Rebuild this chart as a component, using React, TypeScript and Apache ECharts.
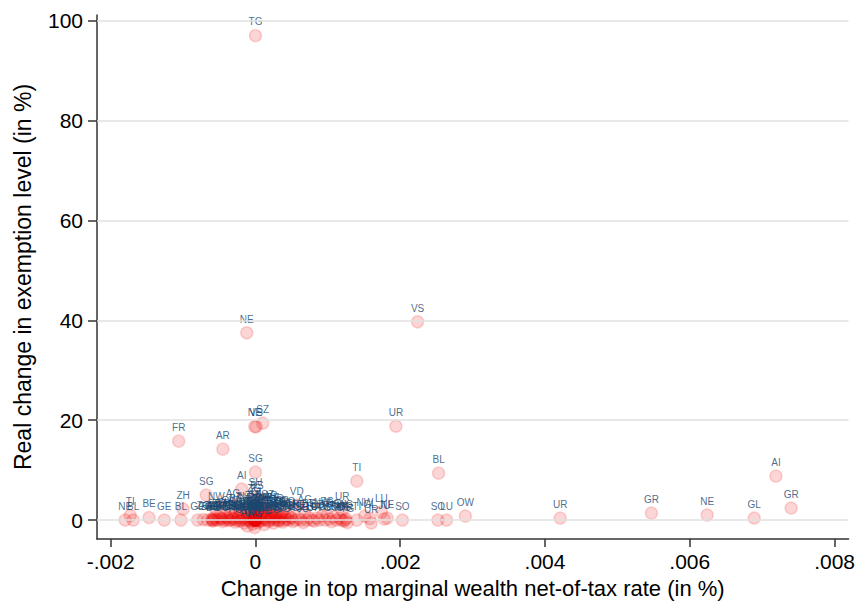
import React, { useEffect, useRef } from "react";
import * as echarts from "echarts";

type Pt = [number, number, string];

const xTicks = [-0.002, 0, 0.002, 0.004, 0.006, 0.008];
const yTicks = [0, 20, 40, 60, 80, 100];

const highOutliers: Pt[] = [
  [0.0, 97.0, "TG"], [-0.00012, 37.5, "NE"], [0.00224, 39.7, "VS"],
  [-0.00001, 18.7, "NE"], [0.00001, 18.7, "VS"], [0.0001, 19.4, "SZ"],
  [0.00194, 18.8, "UR"], [-0.00106, 15.8, "FR"], [-0.00045, 14.2, "AR"],
  [0.0, 9.6, "SG"], [0.0014, 7.8, "TI"], [0.00253, 9.4, "BL"],
  [0.00719, 8.8, "AI"], [-0.00019, 6.2, "AI"], [-0.00068, 5.0, "SG"],
];

const rightTail: Pt[] = [
  [0.00203, 0.0, "SO"], [0.00252, 0.0, "SO"], [0.00264, 0.0, "LU"],
  [0.0029, 0.8, "OW"], [0.00421, 0.4, "UR"], [0.00547, 1.4, "GR"],
  [0.00624, 1.0, "NE"], [0.00689, 0.4, "GL"], [0.0074, 2.4, "GR"],
];

const leftTail: Pt[] = [
  [-0.0018, 0.0, "NE"], [-0.00173, 0.9, "TI"], [-0.00169, 0.0, "BL"],
  [-0.00147, 0.5, "BE"], [-0.00126, 0.0, "GE"], [-0.00103, 0.0, "BL"],
  [-0.001, 2.2, "ZH"], [-0.0008, 0.0, "GE"], [-0.00072, 0.1, "ZG"],
  [-0.00066, 0.0, "BS"],
];

const centerStack: Pt[] = [
  [0, 0, "ZH"], [0, 0, "BE"], [0, 0, "LU"], [0, 0, "UR"], [0, 0, "SZ"],
  [0, 0, "OW"], [0, 0, "NW"], [0, 0, "GL"], [0, 0, "ZG"], [0, 0, "FR"],
  [0, 0, "SO"], [0, 0, "BS"],
  [0.0, 4.8, "SH"], [0.00002, 4.2, "BS"], [-0.00002, 3.6, "ZG"],
  [0.00003, 3.0, "GL"], [-0.00001, 2.4, "SZ"], [0.00001, 1.8, "OW"],
  [0.0, 1.2, "LU"], [0.00002, 0.6, "BE"],
];

const clusterLeft: Pt[] = [
  [-0.0006, 0.0, "GE"], [-0.0006, 0.2, "ZG"], [-0.00059, -0.2, "BS"],
  [-0.00058, 0.0, "AG"], [-0.00054, 2.0, "NW"], [-0.00052, 0.0, "GR"],
  [-0.00048, 0.3, "LU"], [-0.00045, -0.3, "JU"], [-0.00042, 0.0, "VD"],
  [-0.0004, 0.5, "TI"], [-0.00037, -0.1, "ZH"], [-0.00034, 0.0, "BE"],
  [-0.00031, 2.6, "AG"], [-0.0003, 0.2, "SG"], [-0.00028, -0.4, "FR"],
  [-0.00026, 0.0, "SO"], [-0.00024, 0.4, "VS"], [-0.00022, -0.2, "NE"],
  [-0.0002, 0.0, "GE"], [-0.00018, 1.0, "UR"], [-0.00016, -0.6, "OW"],
  [-0.00014, 0.0, "BL"], [-0.00012, 0.3, "SH"], [-0.00011, -1.2, "AR"],
  [-0.0001, 0.0, "GL"], [-0.00008, 0.6, "ZG"], [-0.00007, -0.3, "AI"],
  [-0.00006, 0.0, "SZ"], [-0.00005, 1.4, "TG"], [-0.00004, -0.8, "NW"],
  [-0.00003, 0.2, "JU"], [-0.00002, 0.0, "GR"], [-0.00001, -1.5, "AG"],
];

const clusterLeftExtra: Pt[] = [
  [-0.00057, 0.5, "SZ"], [-0.00055, 0.1, "FR"], [-0.0005, 0.6, "ZH"],
  [-0.00046, 0.2, "BE"], [-0.00043, 0.8, "SH"], [-0.00038, 0.3, "AR"],
  [-0.00035, 1.2, "OW"], [-0.00032, 0.4, "GL"], [-0.00027, 1.6, "BS"],
  [-0.00023, 0.7, "VD"], [-0.00021, 2.0, "TI"], [-0.00017, 0.4, "GR"],
  [-0.00013, 1.8, "NE"], [-0.00009, 0.9, "JU"], [-0.00006, 2.2, "ZH"],
  [-0.00003, 1.0, "SG"],
];

const clusterRight: Pt[] = [
  [0.00001, 0.3, "TI"], [0.00003, -0.5, "VD"], [0.00004, 0.0, "VS"],
  [0.00006, 0.8, "NE"], [0.00007, -0.2, "GE"], [0.00009, 0.0, "JU"],
  [0.0001, 1.6, "ZH"], [0.00012, -0.9, "BE"], [0.00013, 0.2, "LU"],
  [0.00015, 0.0, "UR"], [0.00017, 2.4, "SZ"], [0.00018, -0.3, "OW"],
  [0.0002, 0.0, "NW"], [0.00021, 2.2, "AR"], [0.00023, 0.4, "GL"],
  [0.00025, -0.6, "ZG"], [0.00026, 0.0, "FR"], [0.00028, 1.0, "SO"],
  [0.0003, 0.1, "BS"], [0.00032, -0.2, "BL"], [0.00034, 0.0, "SH"],
  [0.00036, 0.5, "AI"], [0.00038, -0.4, "SG"], [0.0004, 0.0, "GR"],
  [0.00043, 0.2, "AG"], [0.00046, 0.0, "TG"], [0.00049, 0.6, "TI"],
];

const clusterRightExtra: Pt[] = [
  [0.00002, 1.4, "GE"], [0.00005, 2.0, "AI"], [0.00008, 1.1, "SG"],
  [0.00011, 0.6, "VS"], [0.00014, 1.8, "NE"], [0.00016, 0.9, "JU"],
  [0.00019, 1.3, "AG"], [0.00022, 0.8, "TG"], [0.00024, 1.7, "BE"],
  [0.00027, 0.5, "LU"], [0.00029, 1.5, "UR"], [0.00033, 0.9, "ZG"],
  [0.00037, 1.2, "FR"], [0.00041, 0.7, "BL"], [0.00045, 1.0, "SO"],
  [0.0005, 0.4, "GR"],
];

const clusterFar: Pt[] = [
  [0.00052, -0.3, "VD"], [0.00055, 0.0, "VS"], [0.00057, 3.0, "VD"],
  [0.0006, 0.3, "NE"], [0.00063, 0.0, "GE"], [0.00066, -0.5, "JU"],
  [0.00068, 1.4, "AG"], [0.00071, 0.0, "ZH"], [0.00074, 0.5, "BE"],
  [0.00078, 0.0, "LU"], [0.00081, -0.2, "UR"], [0.00085, 0.4, "SZ"],
  [0.00088, 0.0, "OW"], [0.00092, 0.8, "NW"], [0.00096, 0.0, "GL"],
  [0.00099, 1.0, "ZG"], [0.00102, 0.2, "FR"], [0.00105, -0.3, "SO"],
  [0.00108, 0.6, "BS"], [0.00112, 0.0, "BL"], [0.00116, 0.4, "SH"],
  [0.00119, 0.0, "AR"], [0.0012, 2.0, "UR"], [0.00122, -0.2, "SG"],
  [0.00124, 0.0, "GR"], [0.00125, 0.3, "AG"], [0.00127, -0.5, "TG"],
  [0.0014, 0.0, "TI"], [0.00151, 0.8, "NW"], [0.00158, 0.3, "GL"],
  [0.0016, -0.6, "UR"], [0.00174, 1.6, "LU"], [0.00178, 0.2, "JU"],
  [0.00182, 0.4, "NE"],
];

const FONT = "Liberation Sans, Arial, Helvetica, sans-serif";

function fmtX(v: number): string {
  if (Math.abs(v) < 1e-12) return "0";
  return v.toFixed(3).replace("0.", ".");
}

export default function App() {
  const ref = useRef<HTMLDivElement>(null);
  useEffect(() => {
    if (!ref.current) return;
    const chart = echarts.init(ref.current, undefined, { renderer: "svg" });
    const all = [
      ...leftTail, ...clusterLeft, ...clusterLeftExtra, ...centerStack,
      ...clusterRight, ...clusterRightExtra, ...clusterFar, ...rightTail,
      ...highOutliers,
    ];
    chart.setOption({
      animation: false,
      backgroundColor: "#ffffff",
      grid: { left: 97, right: 8, top: 15, bottom: 63, containLabel: false },
      xAxis: {
        type: "value",
        min: -0.002189,
        max: 0.008193,
        name: "Change in top marginal wealth net-of-tax rate (in %)",
        nameLocation: "middle",
        nameGap: 38,
        nameTextStyle: { fontFamily: FONT, fontSize: 22, color: "#000" },
        axisLine: { show: true, onZero: false, lineStyle: { color: "#333", width: 1.5 } },
        axisTick: { show: true, length: 8, customValues: xTicks, lineStyle: { color: "#333", width: 1.5 } },
        axisLabel: {
          customValues: xTicks,
          formatter: (v: number) => fmtX(v),
          fontFamily: FONT,
          fontSize: 21,
          color: "#000",
          margin: 12,
        },
        splitLine: { show: false },
      },
      yAxis: {
        type: "value",
        min: -3.79,
        max: 101.14,
        name: "Real change in exemption level (in %)",
        nameLocation: "middle",
        nameGap: 63,
        nameTextStyle: { fontFamily: FONT, fontSize: 23, color: "#000" },
        axisLine: { show: true, onZero: false, lineStyle: { color: "#333", width: 1.5 } },
        axisTick: { show: true, length: 9, customValues: yTicks, lineStyle: { color: "#333", width: 1.5 } },
        axisLabel: {
          customValues: yTicks,
          fontFamily: FONT,
          fontSize: 21,
          color: "#000",
          margin: 14,
        },
        splitLine: { show: false },
      },
      series: [
        {
          type: "line",
          data: [],
          z: 1,
          silent: true,
          markLine: {
            silent: true,
            symbol: ["none", "none"],
            label: { show: false },
            lineStyle: { color: "#e0e0e0", width: 1.5, type: "solid" },
            data: yTicks.map((v) => ({ yAxis: v })),
          },
        },
        {
          type: "scatter",
          z: 3,
          symbol: "circle",
          symbolSize: 12,
          data: all.map((p) => [p[0], p[1], p[2]]),
          itemStyle: {
            color: "rgba(235,0,0,0.2)",
            borderColor: "rgba(235,0,0,0.2)",
            borderWidth: 1.5,
          },
          label: {
            show: true,
            position: "top",
            distance: 2,
            formatter: (p: any) => p.data[2],
            fontFamily: FONT,
            fontSize: 10,
            color: "#1a476f",
          },
          emphasis: { disabled: true },
        },
      ],
    });
    return () => chart.dispose();
  }, []);
  return (
    <div
      ref={ref}
      style={{ position: "absolute", left: 0, top: 0, width: 858, height: 604 }}
    />
  );
}
